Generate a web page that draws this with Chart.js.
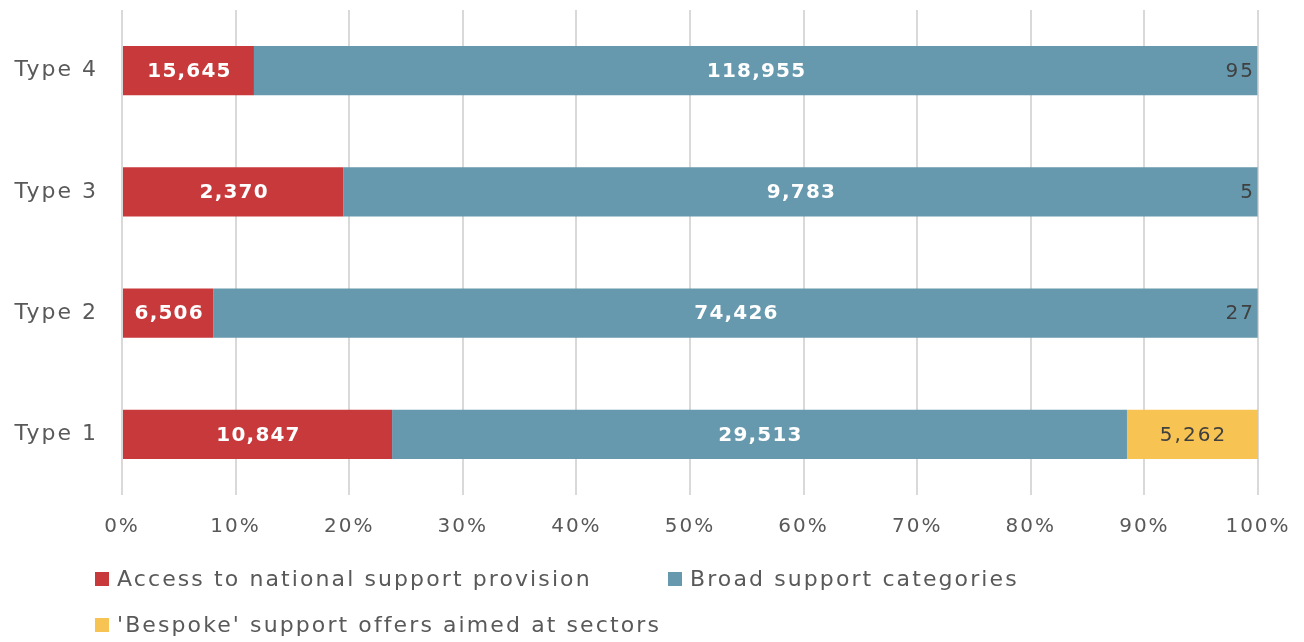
<!DOCTYPE html>
<html>
<head>
<meta charset="utf-8">
<script src="https://cdn.jsdelivr.net/npm/chart.js@4/dist/chart.umd.min.js"></script>
<style>
  html, body { margin: 0; padding: 0; background: #fff; }
  #wrap { position: relative; width: 1304px; height: 642px; }
  #legend { position: absolute; left: 95px; top: 566px; font-family: "DejaVu Sans", sans-serif; font-size: 22px; letter-spacing: 2.1px; color: #595959; }
  .item { position: absolute; white-space: nowrap; display: flex; align-items: center; }
  .sw { width: 14px; height: 14px; margin-right: 8px; }
</style>
</head>
<body>
<div id="wrap">
  <canvas id="chart" width="1304" height="642"></canvas>
  <div id="legend"></div>
</div>
<script>
// ===================== Data =====================
const categories = ['Type 4', 'Type 3', 'Type 2', 'Type 1'];
const accessNational = [15645, 2370, 6506, 10847];
const broadSupport = [118955, 9783, 74426, 29513];
const bespokeOffers = [95, 5, 27, 5262];
const seriesNames = [
  'Access to national support provision',
  'Broad support categories',
  "'Bespoke' support offers aimed at sectors"
];
const xTicks = ['0%', '10%', '20%', '30%', '40%', '50%', '60%', '70%', '80%', '90%', '100%'];

const colors = ['#C8393B', '#6699AE', '#F7C352'];
const FONT = '"DejaVu Sans", sans-serif';
const TEXT = '#595959';

const raw = [accessNational, broadSupport, bespokeOffers];
const totals = categories.map(function (_, i) {
  return accessNational[i] + broadSupport[i] + bespokeOffers[i];
});
function share(arr) {
  return arr.map(function (v, i) { return v / totals[i] * 100; });
}

// wider letters to get closer to the original's geometric face
const spacing = {
  id: 'spacing',
  beforeUpdate: function (chart) { chart.ctx.letterSpacing = '2px'; },
  beforeDraw: function (chart) { chart.ctx.letterSpacing = '2px'; }
};

// ===================== Value labels =====================
const valueLabels = {
  id: 'valueLabels',
  afterDatasetsDraw: function (chart) {
    const ctx = chart.ctx;
    ctx.save();
    ctx.textBaseline = 'middle';
    chart.data.datasets.forEach(function (ds, di) {
      const meta = chart.getDatasetMeta(di);
      meta.data.forEach(function (bar, i) {
        const text = raw[di][i].toLocaleString('en-US');
        const left = Math.min(bar.x, bar.base);
        const right = Math.max(bar.x, bar.base);
        if (di < 2) {
          ctx.font = 'bold 20px ' + FONT;
          ctx.letterSpacing = '1.2px';
          ctx.fillStyle = '#ffffff';
        } else {
          ctx.font = '20px ' + FONT;
          ctx.letterSpacing = '2px';
          ctx.fillStyle = '#404040';
        }
        const w = ctx.measureText(text).width;
        if (right - left > w + 8) {
          ctx.textAlign = 'center';
          ctx.fillText(text, (left + right) / 2 + 1, bar.y + 1);
        } else {
          ctx.textAlign = 'right';
          ctx.fillText(text, right - 3, bar.y + 1);
        }
      });
    });
    ctx.restore();
  }
};

// ===================== Chart =====================
new Chart(document.getElementById('chart'), {
  type: 'bar',
  data: {
    labels: categories,
    datasets: seriesNames.map(function (name, di) {
      return {
        label: name,
        data: share(raw[di]),
        backgroundColor: colors[di],
        borderWidth: 0,
        barPercentage: 0.405,
        categoryPercentage: 1
      };
    })
  },
  options: {
    indexAxis: 'y',
    responsive: false,
    animation: false,
    layout: { padding: { top: 10, right: 46, bottom: 87, left: 0 } },
    plugins: { legend: { display: false }, tooltip: { enabled: false } },
    scales: {
      x: {
        stacked: true,
        min: 0,
        max: 100,
        afterFit: function (s) {
          s.height = 60;
          s.paddingLeft = 0;
          s.paddingRight = 0;
        },
        afterBuildTicks: function (s) {
          s.ticks = xTicks.map(function (_, i) { return { value: i * 10 }; });
        },
        ticks: {
          padding: 20,
          color: TEXT,
          font: { family: FONT, size: 20 },
          callback: function (v, i) { return xTicks[i]; }
        },
        grid: { color: '#D9D9D9', lineWidth: 2, drawTicks: false },
        border: { display: false }
      },
      y: {
        stacked: true,
        afterFit: function (s) {
          s.width = 122;
          s.paddingTop = 0;
          s.paddingBottom = 0;
        },
        ticks: { padding: 24, color: TEXT, font: { family: FONT, size: 22 } },
        grid: { display: false, drawTicks: false },
        border: { display: false }
      }
    }
  },
  plugins: [spacing, valueLabels]
});

// ===================== Legend =====================
(function () {
  const legend = document.getElementById('legend');
  const spots = [[0, 0], [573, 0], [0, 46]];
  seriesNames.forEach(function (name, i) {
    const item = document.createElement('div');
    item.className = 'item';
    item.style.left = spots[i][0] + 'px';
    item.style.top = spots[i][1] + 'px';
    item.innerHTML = '<span class="sw" style="background:' + colors[i] + '"></span>' + name;
    legend.appendChild(item);
  });
})();
</script>
</body>
</html>
